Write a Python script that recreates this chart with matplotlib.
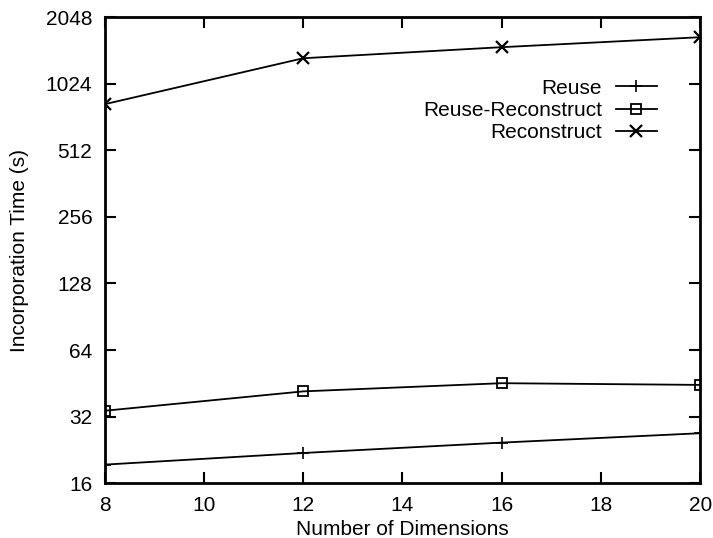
import matplotlib.pyplot as plt

plt.rcParams['font.family'] = ['Liberation Sans', 'DejaVu Sans']

# Data
dims = [8, 12, 16, 20]
reuse = [19.4, 21.9, 24.4, 26.9]
reuse_reconstruct = [34.0, 41.6, 45.3, 44.5]
reconstruct = [828, 1336, 1499, 1663]

y_ticks = [16, 32, 64, 128, 256, 512, 1024, 2048]
x_ticks = [8, 10, 12, 14, 16, 18, 20]

fs = 15

fig = plt.figure(figsize=(7.13, 5.38), dpi=100)
ax = fig.add_axes([0.147, 0.102, 0.835, 0.866])

ax.plot(dims, reuse, color='black', lw=1.3, marker='+', ms=9, mew=1.2, label='Reuse')
ax.plot(dims, reuse_reconstruct, color='black', lw=1.3, marker='s', ms=7.5,
        mfc='none', mew=1.3, label='Reuse-Reconstruct')
ax.plot(dims, reconstruct, color='black', lw=1.3, marker='x', ms=8, mew=1.6,
        label='Reconstruct')

ax.set_yscale('log', base=2)
ax.set_ylim(16, 2048)
ax.set_xlim(8, 20)
ax.set_yticks(y_ticks)
ax.set_yticklabels([str(t) for t in y_ticks])
ax.minorticks_off()
ax.set_xticks(x_ticks)
ax.tick_params(direction='in', length=8, width=1.5, top=True, right=True,
               labelsize=fs, pad=9)

for s in ax.spines.values():
    s.set_linewidth(2)

ax.set_xlabel('Number of Dimensions', fontsize=fs, labelpad=4)
ax.set_ylabel('Incorporation Time (s)', fontsize=fs, labelpad=12)

ax.legend(loc='upper right', bbox_to_anchor=(0.928, 0.868), frameon=False,
          markerfirst=False, fontsize=fs, handlelength=2.0, handletextpad=0.65,
          labelspacing=0.15, borderpad=0, borderaxespad=0)

fig.savefig('out.png', dpi=100)
